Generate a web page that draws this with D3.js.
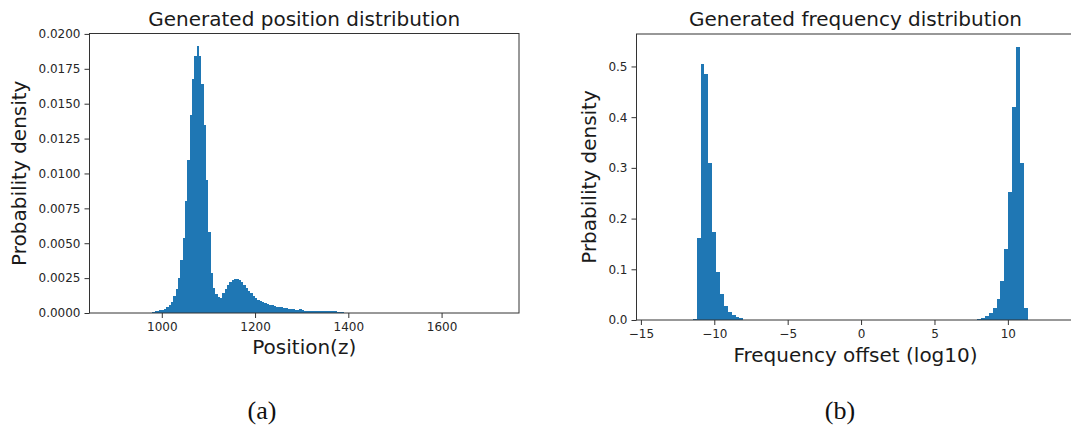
<!DOCTYPE html>
<html>
<head>
<meta charset="utf-8">
<script src="https://cdn.jsdelivr.net/npm/d3@7"></script>
<style>
  body { margin: 0; background: #fff; }
  svg { display: block; }
  .tick text { font-family: "DejaVu Sans", sans-serif; font-size: 12px; fill: #262626; }
  .tick line { stroke: #333; }
  .domain { display: none; }
  .title, .label { font-family: "DejaVu Sans", sans-serif; font-size: 20px; fill: #1a1a1a; }
  .caption { font-family: "Liberation Serif", serif; font-size: 26px; fill: #111; }
</style>
</head>
<body>
<div id="chart"></div>
<script>
// (a) position histogram: bins of 5 units starting at posBinStart
var posBinStart = 980;
var posBinWidth = 5;
var posDensity = [
  0.00010, 0.00012, 0.00013, 0.00018, 0.00024, 0.00032, 0.00042, 0.00056,
  0.00078, 0.00120, 0.00170, 0.00250, 0.00380, 0.00540, 0.00800, 0.01100,
  0.01420, 0.01680, 0.01840, 0.01910, 0.01840, 0.01640, 0.01350, 0.00950,
  0.00580, 0.00290, 0.00180, 0.00135, 0.00112, 0.00105, 0.00140, 0.00170,
  0.00200, 0.00220, 0.00240, 0.00245, 0.00245, 0.00240, 0.00220, 0.00200,
  0.00180, 0.00160, 0.00140, 0.00120, 0.00105, 0.00095, 0.00088, 0.00078,
  0.00070, 0.00064, 0.00060, 0.00055, 0.00050, 0.00045, 0.00042, 0.00040,
  0.00037, 0.00034, 0.00030, 0.00028, 0.00026, 0.00025, 0.00024, 0.00026,
  0.00022, 0.00015, 0.00013, 0.00012, 0.00012, 0.00012, 0.00012, 0.00012,
  0.00012, 0.00011, 0.00011, 0.00011, 0.00011, 0.00011, 0.00011, 0.00010,
  0.00010, 0.00010
];
var posXTicks = [1000, 1200, 1400, 1600];
var posYTicks = [0, 0.0025, 0.005, 0.0075, 0.01, 0.0125, 0.015, 0.0175, 0.02];

// (b) frequency histogram: two clusters of bins
var freqBinWidth = 0.2655;
var freqLeftStart = -11.47;
var freqLeftDensity = [0.0015, 0.162, 0.504, 0.485, 0.309, 0.174, 0.095,
  0.052, 0.028, 0.015, 0.010, 0.0066, 0.003];
var freqRightStart = 7.90;
var freqRightDensity = [0.002, 0.0045, 0.008, 0.013, 0.023, 0.041, 0.076,
  0.141, 0.253, 0.421, 0.539, 0.309, 0.023];
var freqXTicks = [-15, -10, -5, 0, 5, 10];
var freqYTicks = [0, 0.1, 0.2, 0.3, 0.4, 0.5];

var width = 1071, height = 428;
var barColor = '#1f77b4';

var svg = d3.select('#chart').append('svg')
  .attr('width', width)
  .attr('height', height);

svg.append('rect').attr('width', width).attr('height', height).attr('fill', '#fff');

function drawPanel(opt) {
  var x = d3.scaleLinear().domain(opt.xDomain).range([opt.left, opt.right]);
  var y = d3.scaleLinear().domain(opt.yDomain).range([opt.bottom, opt.top]);

  var g = svg.append('g');

  g.append('g')
    .selectAll('rect')
    .data(opt.bins)
    .enter()
    .append('rect')
    .attr('x', function(d) { return x(d.x0); })
    .attr('width', function(d) { return Math.max(0, x(d.x1) - x(d.x0)); })
    .attr('y', function(d) { return y(d.v); })
    .attr('height', function(d) { return y(0) - y(d.v); })
    .attr('fill', barColor)
    .attr('shape-rendering', 'crispEdges');

  g.append('g')
    .attr('transform', 'translate(0,' + opt.bottom + ')')
    .call(d3.axisBottom(x).tickValues(opt.xTicks).tickSize(5).tickPadding(4)
      .tickFormat(opt.xFormat));

  g.append('g')
    .attr('transform', 'translate(' + opt.left + ',0)')
    .call(d3.axisLeft(y).tickValues(opt.yTicks).tickSize(5).tickPadding(4)
      .tickFormat(opt.yFormat));

  // frame
  g.append('rect')
    .attr('x', opt.left)
    .attr('y', opt.top)
    .attr('width', opt.right - opt.left)
    .attr('height', opt.bottom - opt.top)
    .attr('fill', 'none')
    .attr('stroke', '#333')
    .attr('stroke-width', 1);

  var cx = (opt.left + opt.right) / 2;

  g.append('text')
    .attr('class', 'title')
    .attr('x', cx)
    .attr('y', 26)
    .style('text-anchor', 'middle')
    .text(opt.title);

  g.append('text')
    .attr('class', 'label')
    .attr('x', cx)
    .attr('y', opt.xLabelY)
    .style('text-anchor', 'middle')
    .text(opt.xLabel);

  g.append('text')
    .attr('class', 'label')
    .attr('transform', 'translate(' + opt.yLabelX + ',' + ((opt.top + opt.bottom) / 2) + ') rotate(-90)')
    .style('text-anchor', 'middle')
    .text(opt.yLabel);
}

var posBins = posDensity.map(function(v, i) {
  var x0 = posBinStart + i * posBinWidth;
  return {x0: x0, x1: x0 + posBinWidth, v: v};
});

function clusterBins(start, values) {
  return values.map(function(v, i) {
    var x0 = start + i * freqBinWidth;
    return {x0: x0, x1: x0 + freqBinWidth, v: v};
  });
}
var freqBins = clusterBins(freqLeftStart, freqLeftDensity)
  .concat(clusterBins(freqRightStart, freqRightDensity));

drawPanel({
  left: 89.5, right: 519, top: 33.5, bottom: 313,
  xDomain: [845, 1766], yDomain: [0, 0.02003],
  bins: posBins,
  xTicks: posXTicks, yTicks: posYTicks,
  xFormat: d3.format('d'), yFormat: d3.format('.4f'),
  title: 'Generated position distribution',
  xLabel: 'Position(z)', xLabelY: 354,
  yLabel: 'Probability density', yLabelX: 26
});

drawPanel({
  left: 636.5, right: 1074.5, top: 34, bottom: 320,
  xDomain: [-15.3, 14.54], yDomain: [0, 0.564],
  bins: freqBins,
  xTicks: freqXTicks, yTicks: freqYTicks,
  xFormat: d3.format('d'), yFormat: d3.format('.1f'),
  title: 'Generated frequency distribution',
  xLabel: 'Frequency offset (log10)', xLabelY: 362,
  yLabel: 'Prbability density', yLabelX: 596
});

svg.append('text').attr('class', 'caption')
  .attr('x', 262).attr('y', 419).style('text-anchor', 'middle').text('(a)');
svg.append('text').attr('class', 'caption')
  .attr('x', 840).attr('y', 419).style('text-anchor', 'middle').text('(b)');
</script>
</body>
</html>
